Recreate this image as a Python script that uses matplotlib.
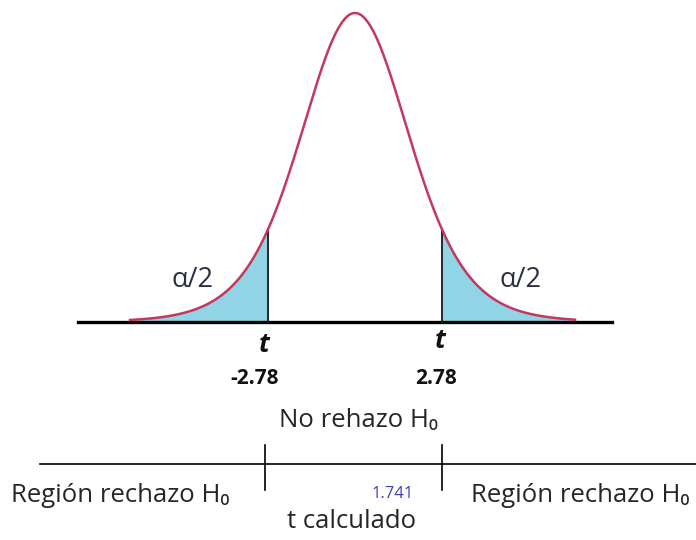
import matplotlib.pyplot as plt
import numpy as np

# valores del diagrama
t_crit = 2.78
t_calc = 1.741
df = 8
scale = 1.774  # ancho visual de la campana

crit_labels = ["-2.78", "2.78"]
region_label = "Región rechazo H\u2080"
accept_label = "No rehazo H\u2080"
calc_label = "t calculado"

# pixel helpers (figure is 696x540, one axes over all of it)
PX_PER_T = 31.29
X0 = 355
def tx(px):
    return (px - X0) / PX_PER_T
def ty(py):
    return 540 - py

base_y = ty(322)
peak_h = 309

def curve(t):
    u = t / scale
    return base_y + peak_h * (1 + u**2 / df) ** (-(df + 1) / 2)

fig = plt.figure(figsize=(6.96, 5.4), dpi=100)
ax = fig.add_axes([0, 0, 1, 1])
ax.set_xlim(tx(0), tx(696))
ax.set_ylim(0, 540)
ax.axis("off")

font = ["Open Sans", "DejaVu Sans"]
txt_col = "#262626"

t = np.linspace(tx(130), tx(575), 600)
y = curve(t)

# colas sombreadas
left = t <= -t_crit
right = t >= t_crit
ax.fill_between(t[left], base_y, y[left], color="#90d4e5", zorder=1)
ax.fill_between(t[right], base_y, y[right], color="#90d4e5", zorder=1)

# eje horizontal
ax.plot([tx(78), tx(612)], [base_y, base_y], color="black", lw=2.4, zorder=2)
ax.plot(t, y, color="#c4385e", lw=1.8, zorder=3)

# lineas de valores criticos
for c in (-t_crit, t_crit):
    ax.plot([c, c], [base_y, curve(c)], color="#1a1a1a", lw=1.3, zorder=2)

ax.text(tx(193), ty(280), "\u03b1/2", fontsize=19.5, color="#2b3040",
        ha="center", va="center", family=font)
ax.text(tx(521), ty(280), "\u03b1/2", fontsize=19.5, color="#2b3040",
        ha="center", va="center", family=font)

for px_t, py_t, lab, px_lab in zip((264, 440), (344, 341), crit_labels, (255, 436)):
    ax.text(tx(px_t), ty(py_t), "t", fontsize=19, fontweight="bold", style="italic",
            ha="center", va="center", family=font, color="#111111")
    ax.text(tx(px_lab), ty(378), lab, fontsize=15, fontweight="bold",
            ha="center", va="center", family=font, color="#111111")

# recta de decision
ax.text(tx(358), ty(420), accept_label, fontsize=18.5, ha="center", va="center",
        family=font, color=txt_col)
ax.plot([tx(40), tx(696)], [ty(464), ty(464)], color="black", lw=1.2)
for px in (265, 442):
    ax.plot([tx(px), tx(px)], [ty(445), ty(490)], color="black", lw=1.2)

ax.text(tx(11), ty(496), region_label, fontsize=18.5, ha="left", va="center",
        family=font, color=txt_col)
ax.text(tx(471), ty(496), region_label, fontsize=18.5, ha="left", va="center",
        family=font, color=txt_col)
ax.text(tx(393), ty(494), f"{t_calc:.3f}", fontsize=12, color="#4040b0",
        ha="center", va="center", family=font)
ax.text(tx(352), ty(522), calc_label, fontsize=18.5, ha="center", va="center",
        family=font, color=txt_col)

fig.savefig("out.png", dpi=100)
